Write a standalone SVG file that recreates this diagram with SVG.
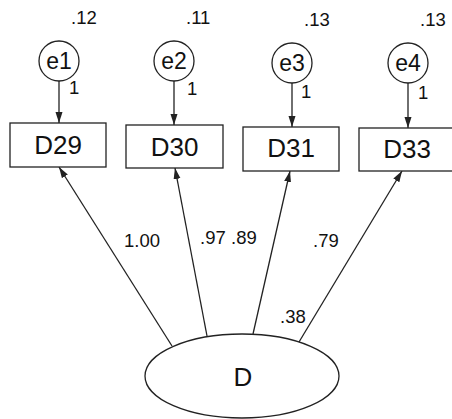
<svg xmlns="http://www.w3.org/2000/svg" width="452" height="419" viewBox="0 0 452 419">
<defs>
<style>
.shape{fill:#fff;stroke:#222;stroke-width:1.3}
.edge{stroke:#222;stroke-width:1.3;fill:none;marker-end:url(#ah)}
.lbl{font-family:"Liberation Sans",Arial,sans-serif;fill:#111}
.node{font-size:26px;text-anchor:middle}
.err{font-size:23px;text-anchor:middle}
.num{font-size:18.5px}
</style>
<marker id="ah" markerUnits="userSpaceOnUse" markerWidth="12" markerHeight="8" refX="11" refY="4" orient="auto">
<path d="M0,0.5 L11,4 L0,7.5 z" fill="#222"/>
</marker>
</defs>
<rect width="452" height="419" fill="#fff"/>
<g id="connectors">
<line class="edge" x1="59" y1="81" x2="59" y2="123"/>
<line class="edge" x1="174" y1="81" x2="174" y2="125"/>
<line class="edge" x1="292" y1="83" x2="292" y2="127"/>
<line class="edge" x1="408" y1="83" x2="408" y2="128"/>
<line class="edge" x1="172" y1="346" x2="59" y2="167"/>
<line class="edge" x1="207" y1="336" x2="175" y2="168"/>
<line class="edge" x1="253" y1="334" x2="290" y2="171"/>
<line class="edge" x1="299" y1="342" x2="402" y2="171"/>
</g>
<g id="labels" class="lbl num">
<text x="124" y="247">1.00</text>
<text x="200" y="244">.97</text>
<text x="231" y="244">.89</text>
<text x="313" y="247">.79</text>
<text x="280" y="323">.38</text>
</g>
<g id="e1"><circle class="shape" cx="59" cy="61" r="20"/><text class="lbl err" x="59" y="69">e1</text><text class="lbl num" x="71" y="24">.12</text><text class="lbl num" x="69" y="94">1</text></g>
<g id="e2"><circle class="shape" cx="174" cy="61" r="20"/><text class="lbl err" x="174" y="69">e2</text><text class="lbl num" x="186" y="24">.11</text><text class="lbl num" x="187" y="95">1</text></g>
<g id="e3"><circle class="shape" cx="292" cy="63" r="20"/><text class="lbl err" x="292" y="71">e3</text><text class="lbl num" x="304" y="26">.13</text><text class="lbl num" x="301" y="98">1</text></g>
<g id="e4"><circle class="shape" cx="408" cy="63" r="20"/><text class="lbl err" x="408" y="71">e4</text><text class="lbl num" x="420" y="26">.13</text><text class="lbl num" x="418" y="99">1</text></g>
<g id="D29"><rect class="shape" x="10" y="123" width="96" height="44"/><text class="lbl node" x="58" y="154">D29</text></g>
<g id="D30"><rect class="shape" x="126" y="125" width="97" height="43"/><text class="lbl node" x="174.5" y="156">D30</text></g>
<g id="D31"><rect class="shape" x="243" y="127" width="96" height="44"/><text class="lbl node" x="291" y="157">D31</text></g>
<g id="D33"><rect class="shape" x="359" y="128" width="96" height="43"/><text class="lbl node" x="407" y="158">D33</text></g>
<g id="D"><ellipse class="shape" cx="242" cy="376" rx="97" ry="42"/><text class="lbl node" x="243" y="386">D</text></g>
</svg>
